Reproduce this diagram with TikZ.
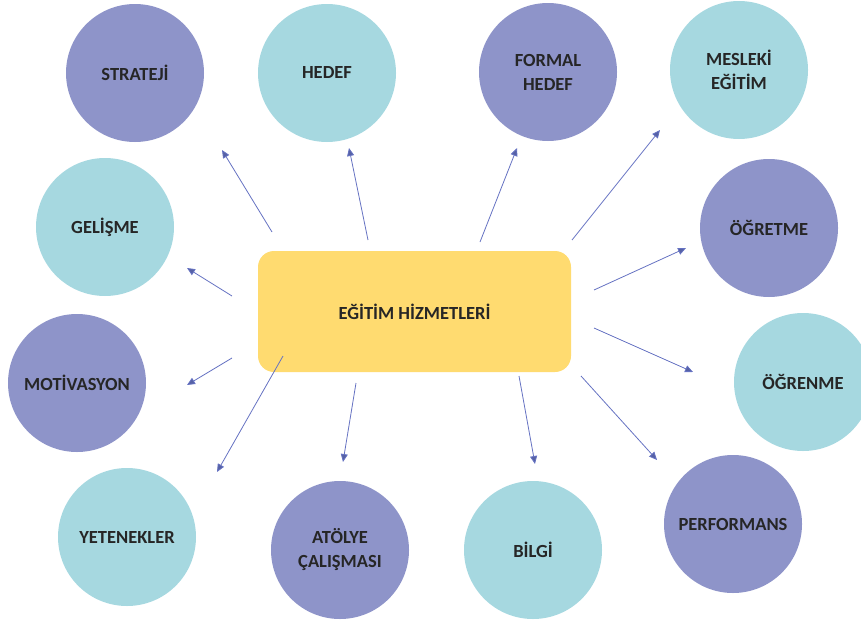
\documentclass[tikz,border=0pt]{standalone}
\usepackage{fontspec}
\setmainfont{Carlito}
\usetikzlibrary{arrows.meta}
\definecolor{cpurple}{HTML}{8E94C9}
\definecolor{cteal}{HTML}{A6D8E0}
\definecolor{cyellow}{HTML}{FFDB70}
\definecolor{cline}{HTML}{6572C2}
\definecolor{ctext}{HTML}{262626}
\begin{document}
\begin{tikzpicture}[x=1pt,y=-1pt,
  bub/.style={circle,minimum size=138pt,inner sep=0pt,align=center,font=\bfseries\fontsize{18.5}{24}\selectfont,text=ctext},
  pbub/.style={bub,fill=cpurple},
  tbub/.style={bub,fill=cteal},
  arr/.style={draw=cline,line width=0.8pt,-{Triangle[length=8pt,width=7pt,fill=cline!85!black]}}]
\useasboundingbox (0,0) rectangle (861,621);
\node[fill=cyellow,rounded corners=16pt,minimum width=313pt,minimum height=121pt,font=\bfseries\fontsize{18.5}{24}\selectfont,text=ctext] (c) at (414.5,311.5) {EĞİTİM HİZMETLERİ};
\node[pbub] (s1) at (135,73) {STRATEJİ};
\node[tbub] (s2) at (327,73) {HEDEF};
\node[pbub] (s3) at (548,72) {FORMAL\\HEDEF};
\node[tbub] (s4) at (739,70) {MESLEKİ\\EĞİTİM};
\node[tbub] (s5) at (105,227) {GELİŞME};
\node[pbub] (s6) at (769,228) {ÖĞRETME};
\node[pbub] (s7) at (77,383) {MOTİVASYON};
\node[tbub] (s8) at (803,382) {ÖĞRENME};
\node[tbub] (s9) at (127,537) {YETENEKLER};
\node[pbub] (s10) at (340,550) {ATÖLYE\\ÇALIŞMASI};
\node[tbub] (s11) at (533,550) {BİLGİ};
\node[pbub] (s12) at (733,524) {PERFORMANS};
\coordinate (a1s) at (272,232); \coordinate (a1e) at (222,150);
\coordinate (a2s) at (368,240); \coordinate (a2e) at (349,148);
\coordinate (a3s) at (480,242); \coordinate (a3e) at (517,148);
\coordinate (a4s) at (572,240); \coordinate (a4e) at (660,130);
\coordinate (a5s) at (594,290); \coordinate (a5e) at (686,248);
\coordinate (a6s) at (594,328); \coordinate (a6e) at (693,372);
\coordinate (a7s) at (581,376); \coordinate (a7e) at (657,460);
\coordinate (a8s) at (519,376); \coordinate (a8e) at (535,464);
\coordinate (a9s) at (356,383); \coordinate (a9e) at (343,462);
\coordinate (a10s) at (283,356); \coordinate (a10e) at (217,472);
\coordinate (a11s) at (232,358); \coordinate (a11e) at (187,385);
\coordinate (a12s) at (232,296); \coordinate (a12e) at (187,268);
\foreach \i in {1,...,12} {\draw[arr] (a\i s) -- (a\i e);}
\end{tikzpicture}
\end{document}
